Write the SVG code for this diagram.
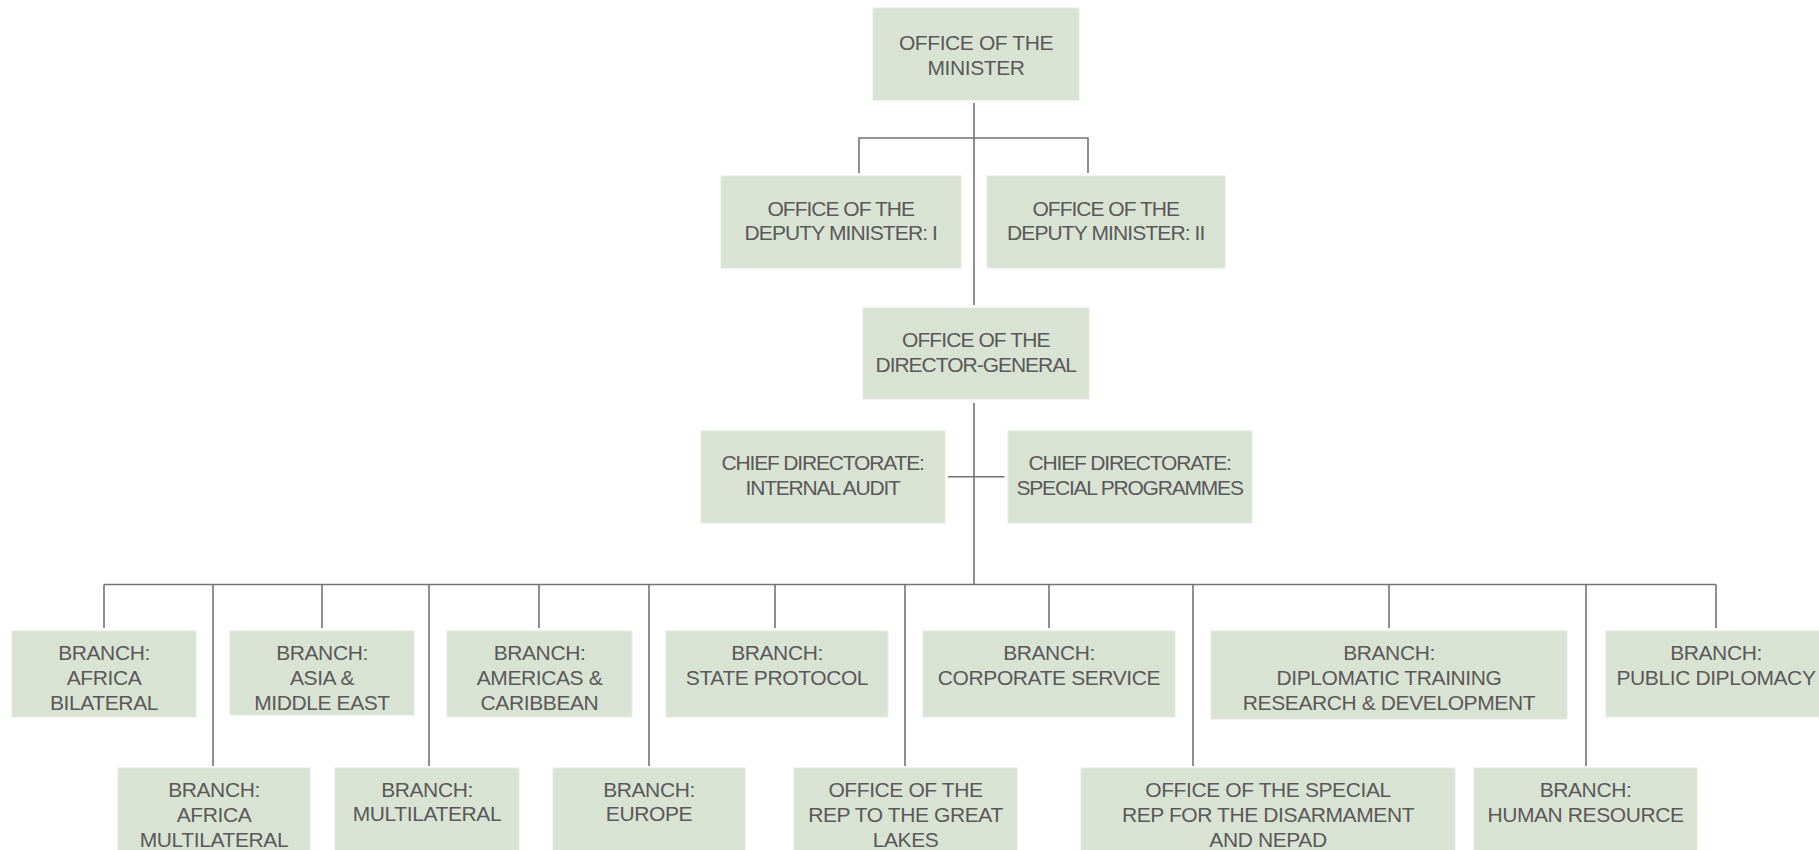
<svg xmlns="http://www.w3.org/2000/svg" width="1819" height="850" viewBox="0 0 1819 850">
<style>
.box{fill:#d9e3d4;stroke:#e4ebe0;stroke-width:1}
.t{font-family:"Liberation Sans",Arial,sans-serif;font-size:21px;fill:#595959;text-anchor:middle;letter-spacing:-0.4px}
.c{fill:none;stroke:#737373;stroke-width:1.6}
</style>
<rect width="1819" height="850" fill="#ffffff"/>
<g id="connectors">
<path class="c" d="M974,103V305M974,403V584.5"/>
<path class="c" d="M859,173V138H1088V173"/>
<path class="c" d="M948,476.7H1004.5"/>
<path class="c" d="M104,584.5H1716"/>
<path class="c" d="M104,584.5V628M322,584.5V628M539,584.5V628M775,584.5V628M1049,584.5V628M1389,584.5V628M1716,584.5V628"/>
<path class="c" d="M213,584.5V766M429,584.5V766M649,584.5V766M905,584.5V766M1193,584.5V766M1586,584.5V766"/>
</g>
<g id="minister"><rect class="box" x="873" y="8" width="206" height="92"/><text class="t" x="976" y="50">OFFICE OF THE</text><text class="t" x="976" y="74.5">MINISTER</text></g>
<g id="deputy1"><rect class="box" x="721" y="176" width="240" height="92"/><text class="t" x="841" y="215.5" textLength="147" lengthAdjust="spacing">OFFICE OF THE</text><text class="t" x="841" y="240" textLength="193" lengthAdjust="spacing">DEPUTY MINISTER: I</text></g>
<g id="deputy2"><rect class="box" x="987" y="176" width="238" height="92"/><text class="t" x="1106" y="215.5" textLength="147" lengthAdjust="spacing">OFFICE OF THE</text><text class="t" x="1106" y="240" textLength="198" lengthAdjust="spacing">DEPUTY MINISTER: II</text></g>
<g id="dg"><rect class="box" x="863" y="308" width="226" height="91"/><text class="t" x="976" y="347" textLength="148" lengthAdjust="spacing">OFFICE OF THE</text><text class="t" x="976" y="371.5" textLength="201" lengthAdjust="spacing">DIRECTOR-GENERAL</text></g>
<g id="audit"><rect class="box" x="701" y="431" width="244" height="92"/><text class="t" x="823" y="470" textLength="203" lengthAdjust="spacing">CHIEF DIRECTORATE:</text><text class="t" x="823" y="494.5" textLength="155" lengthAdjust="spacing">INTERNAL AUDIT</text></g>
<g id="special-programmes"><rect class="box" x="1008" y="431" width="244" height="92"/><text class="t" x="1130" y="470" textLength="203" lengthAdjust="spacing">CHIEF DIRECTORATE:</text><text class="t" x="1130" y="494.5" textLength="227" lengthAdjust="spacing">SPECIAL PROGRAMMES</text></g>
<g id="africa-bilateral"><rect class="box" x="12" y="631" width="184" height="86"/><text class="t" x="104" y="659.5">BRANCH:</text><text class="t" x="104" y="684.5">AFRICA</text><text class="t" x="104" y="709.5">BILATERAL</text></g>
<g id="asia"><rect class="box" x="230" y="631" width="184" height="84"/><text class="t" x="322" y="659.5">BRANCH:</text><text class="t" x="322" y="684.5">ASIA &amp;</text><text class="t" x="322" y="709.5">MIDDLE EAST</text></g>
<g id="americas"><rect class="box" x="447" y="631" width="185" height="86"/><text class="t" x="539.5" y="659.5">BRANCH:</text><text class="t" x="539.5" y="684.5">AMERICAS &amp;</text><text class="t" x="539.5" y="709.5">CARIBBEAN</text></g>
<g id="state-protocol"><rect class="box" x="666" y="631" width="222" height="86"/><text class="t" x="777" y="659.5">BRANCH:</text><text class="t" x="777" y="684.5">STATE PROTOCOL</text></g>
<g id="corporate"><rect class="box" x="923" y="631" width="252" height="86"/><text class="t" x="1049" y="659.5">BRANCH:</text><text class="t" x="1049" y="684.5">CORPORATE SERVICE</text></g>
<g id="diplomatic-training"><rect class="box" x="1211" y="631" width="356" height="88"/><text class="t" x="1389" y="659.5">BRANCH:</text><text class="t" x="1389" y="684.5">DIPLOMATIC TRAINING</text><text class="t" x="1389" y="709.5">RESEARCH &amp; DEVELOPMENT</text></g>
<g id="public-diplomacy"><rect class="box" x="1606" y="631" width="220" height="86"/><text class="t" x="1716" y="659.5">BRANCH:</text><text class="t" x="1716" y="684.5">PUBLIC DIPLOMACY</text></g>
<g id="africa-multilateral"><rect class="box" x="118" y="768" width="192" height="90"/><text class="t" x="214" y="796.5">BRANCH:</text><text class="t" x="214" y="821.5">AFRICA</text><text class="t" x="214" y="846.5">MULTILATERAL</text></g>
<g id="multilateral"><rect class="box" x="335" y="768" width="184" height="90"/><text class="t" x="427" y="796.5">BRANCH:</text><text class="t" x="427" y="821">MULTILATERAL</text></g>
<g id="europe"><rect class="box" x="553" y="768" width="192" height="90"/><text class="t" x="649" y="796.5">BRANCH:</text><text class="t" x="649" y="821">EUROPE</text></g>
<g id="great-lakes"><rect class="box" x="794" y="768" width="223" height="90"/><text class="t" x="905.5" y="796.5">OFFICE OF THE</text><text class="t" x="905.5" y="821.5">REP TO THE GREAT</text><text class="t" x="905.5" y="846.5">LAKES</text></g>
<g id="special-rep"><rect class="box" x="1081" y="768" width="374" height="90"/><text class="t" x="1268" y="796.5">OFFICE OF THE SPECIAL</text><text class="t" x="1268" y="821.5">REP FOR THE DISARMAMENT</text><text class="t" x="1268" y="846.5">AND NEPAD</text></g>
<g id="human-resource"><rect class="box" x="1474" y="768" width="223" height="90"/><text class="t" x="1585.5" y="796.5">BRANCH:</text><text class="t" x="1585.5" y="821.5">HUMAN RESOURCE</text></g>
</svg>
